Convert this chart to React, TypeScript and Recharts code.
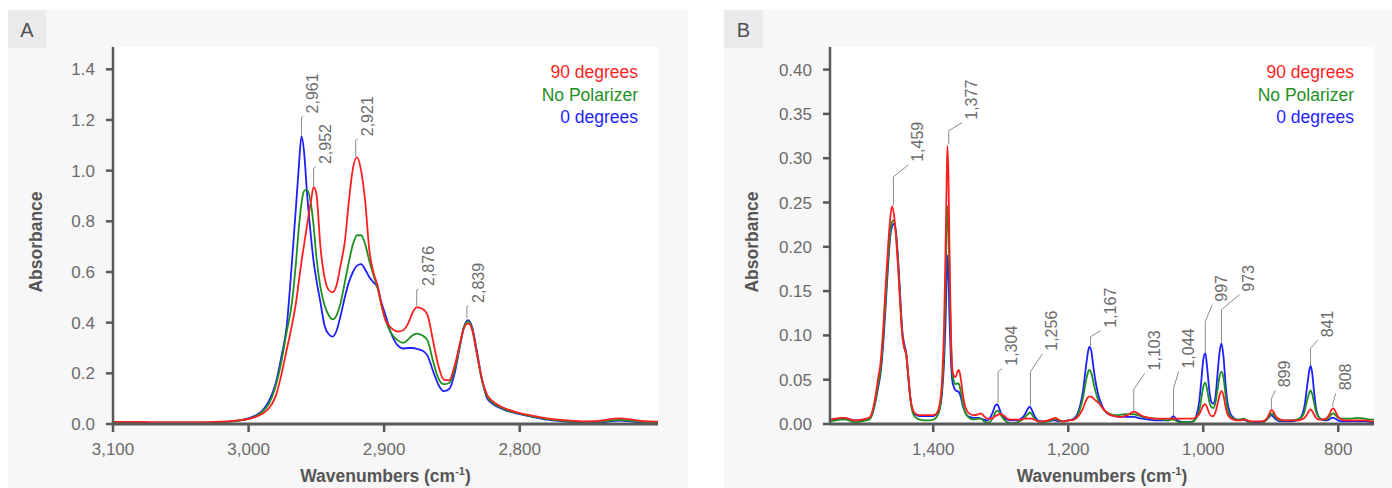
import React from "react";
import {
  CartesianGrid,
  Label,
  Line,
  LineChart,
  ReferenceDot,
  ReferenceLine,
  XAxis,
  YAxis,
} from "recharts";

const FONT = '"Liberation Sans", Arial, Helvetica, sans-serif';
const INK = "#6b6b6b";
const AXIS = "#58595b";
const TITLE = "#555555";
const RED = "#ff1e1e";
const GREEN = "#1f901f";
const BLUE = "#1e1eff";

const SERIES = [
  { key: "deg90", name: "90 degrees", color: RED },
  { key: "none", name: "No Polarizer", color: GREEN },
  { key: "deg0", name: "0 degrees", color: BLUE },
];

// ---- Panel A: C-H stretch region ----
const A_WN = [
  3100, 3080, 3060, 3040, 3020, 3010, 3000, 2995, 2990, 2985,
  2980, 2976, 2972, 2968, 2965, 2963, 2961, 2959, 2957, 2954,
  2952, 2950, 2947, 2944, 2941, 2938, 2935, 2932, 2929, 2926,
  2923, 2920, 2917, 2914, 2911, 2908, 2905, 2902, 2899, 2895,
  2890, 2886, 2882, 2879, 2876, 2872, 2868, 2864, 2860, 2856,
  2852, 2848, 2844, 2841, 2838, 2835, 2832, 2828, 2824, 2820,
  2815, 2810, 2800, 2790, 2780, 2770, 2760, 2750, 2740, 2730,
  2725, 2720, 2710, 2700, 2698,
];
const A_RED = [
  0.008, 0.008, 0.007, 0.007, 0.009, 0.013, 0.02, 0.027, 0.04, 0.062,
  0.11, 0.19, 0.29, 0.39, 0.48, 0.56, 0.64, 0.71, 0.78, 0.88,
  0.935, 0.91, 0.7, 0.58, 0.53, 0.52, 0.55, 0.63, 0.72, 0.88,
  1.01, 1.052, 1.0, 0.88, 0.69, 0.6, 0.55, 0.47, 0.41, 0.38,
  0.365, 0.37, 0.4, 0.44, 0.46, 0.455, 0.43, 0.33, 0.23, 0.175,
  0.172, 0.23, 0.32, 0.38, 0.397, 0.37, 0.29, 0.18, 0.115, 0.09,
  0.072, 0.06, 0.043, 0.032, 0.022, 0.016, 0.012, 0.01, 0.013, 0.021,
  0.022, 0.019, 0.012, 0.009, 0.009,
];
const A_GREEN = [
  0.004, 0.004, 0.004, 0.004, 0.006, 0.011, 0.02, 0.03, 0.048, 0.08,
  0.15, 0.24, 0.36, 0.48, 0.64, 0.77, 0.87, 0.92, 0.925, 0.87,
  0.78, 0.66, 0.54, 0.47, 0.43, 0.413, 0.43, 0.48, 0.56, 0.64,
  0.71, 0.745, 0.745, 0.71, 0.645, 0.59, 0.54, 0.47, 0.41, 0.36,
  0.33, 0.32, 0.335, 0.35, 0.357, 0.35, 0.33, 0.25, 0.18, 0.157,
  0.162, 0.215, 0.315, 0.385, 0.405, 0.375, 0.29, 0.175, 0.108, 0.085,
  0.068, 0.056, 0.041, 0.029, 0.019, 0.013, 0.009, 0.008, 0.009, 0.015,
  0.016, 0.014, 0.008, 0.006, 0.006,
];
const A_BLUE = [
  0.003, 0.003, 0.003, 0.004, 0.006, 0.012, 0.022, 0.033, 0.052, 0.09,
  0.16, 0.26, 0.38, 0.64, 0.86, 1.01, 1.135, 1.07, 0.92, 0.74,
  0.64, 0.57, 0.48, 0.39, 0.355, 0.345, 0.37, 0.43, 0.5, 0.56,
  0.6, 0.625, 0.631, 0.61, 0.58, 0.56, 0.54, 0.48, 0.43, 0.36,
  0.31, 0.298, 0.3, 0.3, 0.297, 0.29, 0.27, 0.21, 0.155, 0.13,
  0.138, 0.2, 0.31, 0.385, 0.41, 0.38, 0.3, 0.18, 0.1, 0.08,
  0.064, 0.053, 0.039, 0.027, 0.017, 0.011, 0.007, 0.006, 0.007, 0.012,
  0.013, 0.011, 0.005, 0.003, 0.003,
];
const A_X_TICKS = [3100, 3000, 2900, 2800];
const A_Y_TICKS = [0, 0.2, 0.4, 0.6, 0.8, 1.0, 1.2, 1.4];
const A_PEAKS = [2961, 2952, 2921, 2876, 2839];
const A_PEAK_FROM = [1.14, 0.94, 1.055, 0.466, 0.418];
const A_PEAK_TO = [1.21, 1.01, 1.12, 0.529, 0.462];

// ---- Panel B: fingerprint region ----
const B_WN = [
  1553, 1545, 1538, 1530, 1522, 1514, 1506, 1500, 1495, 1490,
  1486, 1482, 1478, 1474, 1471, 1467, 1464, 1461, 1458, 1455,
  1452, 1449, 1446, 1443, 1440, 1437, 1434, 1431, 1427, 1420,
  1410, 1400, 1395, 1391, 1387, 1384, 1382, 1380, 1379, 1377.5,
  1376, 1374, 1372, 1370, 1367, 1364, 1362, 1359, 1356, 1352,
  1347, 1340, 1333, 1329, 1325, 1320, 1315, 1311, 1308, 1305,
  1302, 1299, 1295, 1290, 1285, 1280, 1275, 1270, 1265, 1260,
  1257, 1254, 1250, 1245, 1240, 1230, 1223, 1219, 1215, 1208,
  1200, 1192, 1186, 1182, 1178, 1175, 1172, 1169, 1166, 1163,
  1160, 1157, 1154, 1150, 1146, 1140, 1132, 1125, 1117, 1110,
  1106, 1102, 1097, 1090, 1080, 1070, 1060, 1052, 1047, 1044,
  1041, 1035, 1025, 1015, 1010, 1006, 1003, 1000, 997, 994,
  991, 988, 985, 982, 979, 976, 973, 970, 967, 964,
  960, 955, 950, 945, 940, 935, 928, 920, 912, 906,
  902, 899, 896, 892, 886, 878, 870, 862, 855, 850,
  846, 843, 841, 839, 836, 833, 829, 824, 818, 813,
  810, 807, 804, 800, 795, 790, 780, 770, 760, 750,
  747,
];
const B_RED = [
  0.005, 0.006, 0.007, 0.007, 0.005, 0.004, 0.005, 0.006, 0.007, 0.015,
  0.03, 0.05, 0.07, 0.11, 0.15, 0.2, 0.23, 0.246, 0.235, 0.21,
  0.175, 0.135, 0.1, 0.086, 0.078, 0.055, 0.03, 0.018, 0.012, 0.01,
  0.01, 0.01, 0.012, 0.02, 0.05, 0.11, 0.19, 0.28, 0.314, 0.28,
  0.2, 0.11, 0.065, 0.055, 0.053, 0.059, 0.061, 0.05, 0.032, 0.018,
  0.012, 0.01, 0.011, 0.012, 0.009, 0.006, 0.006, 0.007, 0.009, 0.01,
  0.011, 0.011, 0.009, 0.006, 0.005, 0.005, 0.005, 0.005, 0.006, 0.006,
  0.006, 0.006, 0.005, 0.003, 0.003, 0.004, 0.006, 0.007, 0.005, 0.003,
  0.004, 0.005, 0.008, 0.012, 0.018, 0.024, 0.029, 0.031, 0.031, 0.029,
  0.027, 0.025, 0.023, 0.019, 0.015, 0.011, 0.009, 0.008, 0.009, 0.011,
  0.013, 0.014, 0.012, 0.009, 0.007, 0.006, 0.006, 0.006, 0.006, 0.006,
  0.006, 0.006, 0.006, 0.006, 0.008, 0.011, 0.016, 0.021, 0.0225, 0.018,
  0.012, 0.009, 0.009, 0.013, 0.022, 0.032, 0.037, 0.032, 0.02, 0.011,
  0.007, 0.005, 0.004, 0.004, 0.005, 0.004, 0.003, 0.003, 0.003, 0.006,
  0.012, 0.016, 0.014, 0.008, 0.005, 0.004, 0.004, 0.004, 0.005, 0.007,
  0.011, 0.015, 0.0166, 0.015, 0.011, 0.007, 0.005, 0.005, 0.006, 0.011,
  0.016, 0.0177, 0.014, 0.008, 0.005, 0.004, 0.004, 0.004, 0.004, 0.003,
  0.003,
];
const B_GREEN = [
  0.003, 0.004, 0.005, 0.005, 0.003, 0.002, 0.003, 0.004, 0.005, 0.012,
  0.025, 0.043, 0.062, 0.098, 0.135, 0.185, 0.215, 0.228, 0.23, 0.212,
  0.18, 0.14, 0.103, 0.087, 0.077, 0.052, 0.028, 0.014, 0.008, 0.005,
  0.004, 0.005, 0.008, 0.015, 0.04, 0.085, 0.15, 0.22, 0.246, 0.23,
  0.17, 0.1, 0.06, 0.05, 0.045, 0.046, 0.045, 0.036, 0.022, 0.012,
  0.007, 0.005, 0.006, 0.006, 0.003, 0.0015, 0.003, 0.008, 0.013, 0.015,
  0.013, 0.009, 0.005, 0.002, 0.001, 0.001, 0.002, 0.004, 0.007, 0.011,
  0.013, 0.011, 0.006, 0.003, 0.002, 0.003, 0.005, 0.006, 0.004, 0.003,
  0.004, 0.005, 0.01, 0.018, 0.03, 0.043, 0.055, 0.061, 0.058, 0.048,
  0.038, 0.03, 0.024, 0.019, 0.015, 0.012, 0.01, 0.01, 0.011, 0.011,
  0.011, 0.011, 0.01, 0.008, 0.007, 0.006, 0.005, 0.004, 0.005, 0.005,
  0.004, 0.002, 0.002, 0.003, 0.007, 0.015, 0.028, 0.042, 0.0466, 0.038,
  0.025, 0.019, 0.018, 0.024, 0.038, 0.053, 0.059, 0.052, 0.033, 0.017,
  0.009, 0.006, 0.005, 0.005, 0.006, 0.004, 0.001, 0.0, 0.001, 0.005,
  0.009, 0.012, 0.011, 0.006, 0.004, 0.004, 0.004, 0.005, 0.007, 0.014,
  0.027, 0.035, 0.038, 0.035, 0.025, 0.014, 0.008, 0.005, 0.005, 0.008,
  0.011, 0.012, 0.01, 0.007, 0.006, 0.006, 0.006, 0.007, 0.006, 0.005,
  0.005,
];
const B_BLUE = [
  0.005, 0.005, 0.006, 0.006, 0.005, 0.004, 0.004, 0.005, 0.006, 0.012,
  0.024, 0.04, 0.058, 0.092, 0.128, 0.178, 0.21, 0.223, 0.226, 0.215,
  0.185, 0.145, 0.106, 0.09, 0.08, 0.054, 0.03, 0.016, 0.011, 0.009,
  0.009, 0.009, 0.011, 0.016, 0.035, 0.07, 0.11, 0.17, 0.19, 0.17,
  0.12, 0.075, 0.05, 0.043, 0.038, 0.037, 0.036, 0.03, 0.02, 0.012,
  0.008, 0.007, 0.007, 0.006, 0.005, 0.004, 0.008, 0.015, 0.021, 0.022,
  0.017, 0.011, 0.007, 0.005, 0.004, 0.004, 0.004, 0.006, 0.01, 0.017,
  0.0195, 0.016, 0.009, 0.004, 0.003, 0.003, 0.004, 0.004, 0.003, 0.003,
  0.004, 0.006, 0.012, 0.022, 0.038, 0.057, 0.075, 0.087, 0.083, 0.066,
  0.05, 0.038, 0.029, 0.021, 0.015, 0.011, 0.009, 0.008, 0.008, 0.008,
  0.008, 0.008, 0.007, 0.006, 0.005, 0.004, 0.004, 0.004, 0.007, 0.009,
  0.006, 0.003, 0.002, 0.003, 0.01, 0.025, 0.048, 0.072, 0.08, 0.062,
  0.038, 0.025, 0.023, 0.03, 0.055, 0.08, 0.091, 0.076, 0.046, 0.024,
  0.012, 0.007, 0.005, 0.005, 0.005, 0.003, 0.002, 0.002, 0.003, 0.005,
  0.008, 0.01, 0.008, 0.005, 0.003, 0.003, 0.003, 0.004, 0.008, 0.02,
  0.043, 0.06, 0.0655, 0.06, 0.038, 0.018, 0.008, 0.005, 0.004, 0.005,
  0.007, 0.007, 0.006, 0.004, 0.003, 0.003, 0.003, 0.003, 0.003, 0.002,
  0.002,
];
const B_X_TICKS = [1400, 1200, 1000, 800];
const B_Y_TICKS = [0, 0.05, 0.1, 0.15, 0.2, 0.25, 0.3, 0.35, 0.4];
const B_PEAKS = [1459, 1377, 1304, 1256, 1167, 1103, 1044, 997, 973, 899, 841, 808];
const B_PEAK_FROM = [0.247, 0.316, 0.024, 0.021, 0.088, 0.015, 0.01, 0.081, 0.092, 0.017, 0.066, 0.019];
const B_PEAK_TO = [0.279, 0.331, 0.059, 0.059, 0.0985, 0.039, 0.04, 0.1155, 0.129, 0.029, 0.0854, 0.0234];

// leader hook offsets (px) from the top of each vertical leader line
const A_HOOKS = [[2, -1], [2, -1], [2, -1], [2, -1], [2, -1]];
const B_HOOKS = [
  [15, -12], [13, -8], [4, -3], [12, -18], [10, -6], [11, -16],
  [5, -17], [7, -17], [18, -15], [4, -8], [7, -8], [3, -10],
];

const PANEL_H = 478;
const PLOT_TOP = 37;
const X_AXIS_H = 64;

const fmtWn = (v: number) => v.toLocaleString("en-US");

function buildRows(wn: number[], red: number[], green: number[], blue: number[]) {
  return wn.map((w, i) => ({ wn: w, deg90: red[i], none: green[i], deg0: blue[i] }));
}

function PeakTag({ cx, cy, dx, dy, text }: { cx?: number; cy?: number; dx: number; dy: number; text: string }) {
  if (cx == null || cy == null) return null;
  const ex = cx + dx;
  const ey = cy + dy;
  const tx = ex + 15;
  const ty = ey - 3;
  return (
    <g>
      <line x1={cx} y1={cy} x2={ex} y2={ey} stroke="#8c8c8c" strokeWidth={1} />
      <text x={tx} y={ty} transform={`rotate(-90 ${tx} ${ty})`} fill={INK} fontSize={16}>
        {text}
      </text>
    </g>
  );
}

interface PanelProps {
  letter: string;
  left: number;
  width: number;
  plotLeft: number;
  plotRight: number;
  rows: { wn: number; deg90: number; none: number; deg0: number }[];
  xDomain: [number, number];
  xTicks: number[];
  yDomain: [number, number];
  yTicks: number[];
  yDigits: number;
  peaks: number[];
  peakFrom: number[];
  peakTo: number[];
  hooks: number[][];
}

function SpectrumPanel(p: PanelProps) {
  const marginRight = p.width - p.plotRight;
  const plotMid = (p.plotLeft + p.plotRight) / 2;
  return (
    <div
      style={{
        position: "absolute",
        left: p.left,
        top: 10,
        width: p.width,
        height: PANEL_H,
        background: "#f7f7f7",
      }}
    >
      <LineChart
        width={p.width}
        height={PANEL_H}
        data={p.rows}
        margin={{ top: PLOT_TOP, right: marginRight, bottom: 0, left: 0 }}
      >
        <CartesianGrid horizontal={false} vertical={false} fill="#ffffff" stroke="none" />
        <XAxis
          dataKey="wn"
          type="number"
          domain={p.xDomain}
          reversed
          allowDataOverflow
          ticks={p.xTicks}
          interval={0}
          tickFormatter={fmtWn}
          height={X_AXIS_H}
          axisLine={{ stroke: AXIS, strokeWidth: 3 }}
          tickLine={{ stroke: AXIS, strokeWidth: 2.5 }}
          tickSize={8}
          tickMargin={11}
          tick={{ fill: INK, fontSize: 17 }}
        >
          <Label
            content={() => (
              <text
                x={plotMid}
                y={PANEL_H - X_AXIS_H + 58}
                textAnchor="middle"
                fill={TITLE}
                fontSize={17.5}
                fontWeight="bold"
              >
                Wavenumbers (cm
                <tspan dy={-7} fontSize={11}>
                  -1
                </tspan>
                <tspan dy={7}>)</tspan>
              </text>
            )}
          />
        </XAxis>
        <YAxis
          type="number"
          domain={p.yDomain}
          allowDataOverflow
          ticks={p.yTicks}
          interval={0}
          tickFormatter={(v: number) => v.toFixed(p.yDigits)}
          width={p.plotLeft}
          axisLine={{ stroke: AXIS, strokeWidth: 2.5 }}
          tickLine={{ stroke: AXIS, strokeWidth: 2.5 }}
          tickSize={7}
          tickMargin={11}
          tick={{ fill: INK, fontSize: 17 }}
        >
          <Label
            content={() => (
              <text
                x={34}
                y={232}
                transform="rotate(-90 34 232)"
                textAnchor="middle"
                fill={TITLE}
                fontSize={17.5}
                fontWeight="bold"
              >
                Absorbance
              </text>
            )}
          />
        </YAxis>
        {[SERIES[2], SERIES[1], SERIES[0]].map((s) => (
          <Line
            key={s.key}
            type="monotone"
            dataKey={s.key}
            stroke={s.color}
            strokeWidth={1.8}
            dot={false}
            isAnimationActive={false}
          />
        ))}
        {p.peaks.map((wn, i) => (
          <ReferenceLine
            key={`l${wn}`}
            segment={[
              { x: wn, y: p.peakFrom[i] },
              { x: wn, y: p.peakTo[i] },
            ]}
            stroke="#8c8c8c"
            strokeWidth={1}
            ifOverflow="visible"
          />
        ))}
        {p.peaks.map((wn, i) => (
          <ReferenceDot
            key={`d${wn}`}
            x={wn}
            y={p.peakTo[i]}
            r={0}
            ifOverflow="visible"
            shape={(s: any) => (
              <PeakTag cx={s.cx} cy={s.cy} dx={p.hooks[i][0]} dy={p.hooks[i][1]} text={fmtWn(wn)} />
            )}
          />
        ))}
      </LineChart>
      <div
        style={{
          position: "absolute",
          left: 0,
          top: 0,
          width: p.letter === "B" ? 39 : 38,
          height: 38,
          background: "#ebebed",
          color: "#505050",
          fontSize: 20,
          lineHeight: "38px",
          textAlign: "center",
          paddingTop: 1,
          boxSizing: "border-box",
        }}
      >
        {p.letter}
      </div>
      <div
        style={{
          position: "absolute",
          right: marginRight + 20,
          top: 51,
          textAlign: "right",
          fontSize: 17.5,
          lineHeight: "22.5px",
        }}
      >
        {SERIES.map((s) => (
          <div key={s.key} style={{ color: s.color }}>
            {s.name}
          </div>
        ))}
      </div>
    </div>
  );
}

export default function App() {
  const rowsA = buildRows(A_WN, A_RED, A_GREEN, A_BLUE);
  const rowsB = buildRows(B_WN, B_RED, B_GREEN, B_BLUE);
  return (
    <div
      style={{
        position: "absolute",
        left: 0,
        top: 0,
        width: 1392,
        height: 488,
        background: "#ffffff",
        fontFamily: FONT,
        overflow: "hidden",
      }}
    >
      <SpectrumPanel
        letter="A"
        left={8}
        width={680}
        plotLeft={105}
        plotRight={650}
        rows={rowsA}
        xDomain={[2698, 3100]}
        xTicks={A_X_TICKS}
        yDomain={[0, 1.488]}
        yTicks={A_Y_TICKS}
        yDigits={1}
        peaks={A_PEAKS}
        peakFrom={A_PEAK_FROM}
        peakTo={A_PEAK_TO}
        hooks={A_HOOKS}
      />
      <SpectrumPanel
        letter="B"
        left={724}
        width={668}
        plotLeft={106}
        plotRight={650}
        rows={rowsB}
        xDomain={[747, 1553]}
        xTicks={B_X_TICKS}
        yDomain={[0, 0.4255]}
        yTicks={B_Y_TICKS}
        yDigits={2}
        peaks={B_PEAKS}
        peakFrom={B_PEAK_FROM}
        peakTo={B_PEAK_TO}
        hooks={B_HOOKS}
      />
    </div>
  );
}
